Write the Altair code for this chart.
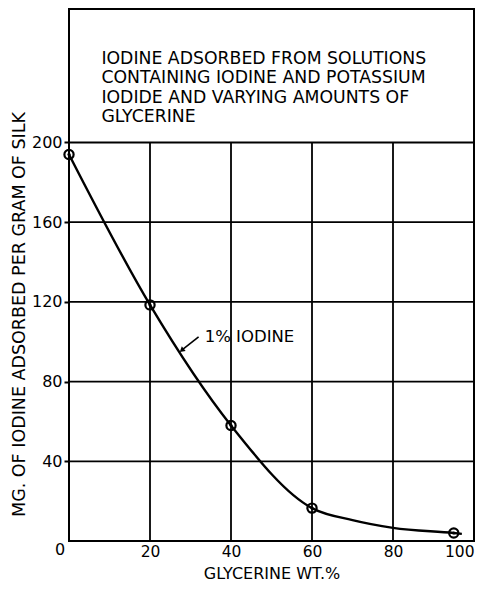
import altair as alt
import pandas as pd

# measured points
glycerine = [0, 20, 40, 60, 95]
iodine = [194, 118.5, 58, 16.5, 4]

# points
curve_x = [0, 20, 40, 60, 70, 80, 95, 97]
curve_y = [194, 118.5, 58, 16.5, 10.5, 6.6, 4, 3.6]

x_ticks = [20, 40, 60, 80, 100]
y_ticks = [40, 80, 120, 160, 200]
x_grid = [20, 40, 60, 80]
y_grid = [40, 80, 120, 160, 200]

title_lines = [
    "IODINE ADSORBED FROM SOLUTIONS",
    "CONTAINING IODINE AND POTASSIUM",
    "IODIDE AND VARYING AMOUNTS OF",
    "GLYCERINE",
]
curve_label = "1% IODINE"
x_title = "GLYCERINE WT.%"
y_title = "MG. OF IODINE ADSORBED PER GRAM OF SILK"

FONT = "DejaVu Sans"

pts = pd.DataFrame({"x": glycerine, "y": iodine})
curve = pd.DataFrame({"x": curve_x, "y": curve_y})
vgrid = pd.DataFrame({"x": x_grid, "y0": [0] * len(x_grid), "y1": [200] * len(x_grid)})
hgrid = pd.DataFrame({"y": y_grid, "x0": [0] * len(y_grid), "x1": [100] * len(y_grid)})

xs = alt.Scale(domain=[0, 100], nice=False, zero=False)
ys = alt.Scale(domain=[0, 267], nice=False, zero=False)

xaxis = alt.Axis(values=x_ticks, grid=False, domain=False, ticks=False,
                 labelFont=FONT, labelFontSize=15.5, labelColor="black",
                 labelPadding=3, labelFlush=True,
                 title=x_title, titleFont=FONT, titleFontSize=16,
                 titleFontWeight="normal", titleColor="black",
                 titleY=37, titleBaseline="alphabetic")
yaxis = alt.Axis(values=y_ticks, grid=False, domain=False, ticks=True,
                 tickSize=5, tickWidth=2, tickColor="black",
                 labelFont=FONT, labelFontSize=16, labelColor="black",
                 labelPadding=2,
                 title=y_title, titleFont=FONT, titleFontSize=17.5,
                 titleFontWeight="normal", titleColor="black",
                 titleAngle=270, titleX=-50, titleY=305,
                 titleAlign="center", titleBaseline="middle")

base = alt.Chart(curve)

line = base.mark_line(color="black", strokeWidth=2.4, interpolate="monotone").encode(
    x=alt.X("x:Q", scale=xs, axis=xaxis),
    y=alt.Y("y:Q", scale=ys, axis=yaxis),
)

vg = alt.Chart(vgrid).mark_rule(color="black", strokeWidth=1.8).encode(
    x=alt.X("x:Q", scale=xs), y=alt.Y("y0:Q", scale=ys), y2="y1:Q")
hg = alt.Chart(hgrid).mark_rule(color="black", strokeWidth=1.8).encode(
    y=alt.Y("y:Q", scale=ys), x=alt.X("x0:Q", scale=xs), x2="x1:Q")

circles = alt.Chart(pts).mark_point(shape="circle", filled=False, color="black",
                                    size=85, strokeWidth=2.2, opacity=1).encode(
    x=alt.X("x:Q", scale=xs), y=alt.Y("y:Q", scale=ys))
dots = alt.Chart(pts).mark_point(shape="circle", filled=True, color="black",
                                 size=10, opacity=1).encode(
    x=alt.X("x:Q", scale=xs), y=alt.Y("y:Q", scale=ys))

title_df = pd.DataFrame({"x": [8], "y": [239.4], "t": [title_lines]})
title_txt = alt.Chart(title_df).mark_text(align="left", baseline="alphabetic",
                                          font=FONT, fontSize=17.3, lineHeight=19.5,
                                          color="black").encode(
    x=alt.X("x:Q", scale=xs), y=alt.Y("y:Q", scale=ys), text="t")

label_df = pd.DataFrame({"x": [33.5], "y": [102.4], "t": [curve_label]})
label_txt = alt.Chart(label_df).mark_text(align="left", baseline="middle",
                                          font=FONT, fontSize=16.5, color="black").encode(
    x=alt.X("x:Q", scale=xs), y=alt.Y("y:Q", scale=ys), text="t")

leader_df = pd.DataFrame({"x": [32.0], "y": [102.5], "x2": [28.0], "y2": [96.0]})
leader = alt.Chart(leader_df).mark_rule(color="black", strokeWidth=1.6).encode(
    x=alt.X("x:Q", scale=xs), y=alt.Y("y:Q", scale=ys), x2="x2:Q", y2="y2:Q")
head = alt.Chart(leader_df).mark_point(shape="triangle", filled=True, color="black",
                                       size=35, angle=230, opacity=1).encode(
    x=alt.X("x2:Q", scale=xs), y=alt.Y("y2:Q", scale=ys))

zero_df = pd.DataFrame({"t": ["0"]})
zero_txt = alt.Chart(zero_df).mark_text(align="center", baseline="middle",
                                        font=FONT, fontSize=16, color="black").encode(
    x=alt.value(-9), y=alt.value(541), text="t")

chart = alt.layer(vg, hg, line, circles, dots, title_txt, label_txt, leader, head, zero_txt).properties(
    width=405, height=532,
    autosize=alt.AutoSizeParams(type="none"),
    padding={"left": 61, "top": 1, "right": 6, "bottom": 41},
    background="white",
).configure_view(stroke="black", strokeWidth=2)

chart.save("out.html", embed_options={"renderer": "svg", "actions": False})
